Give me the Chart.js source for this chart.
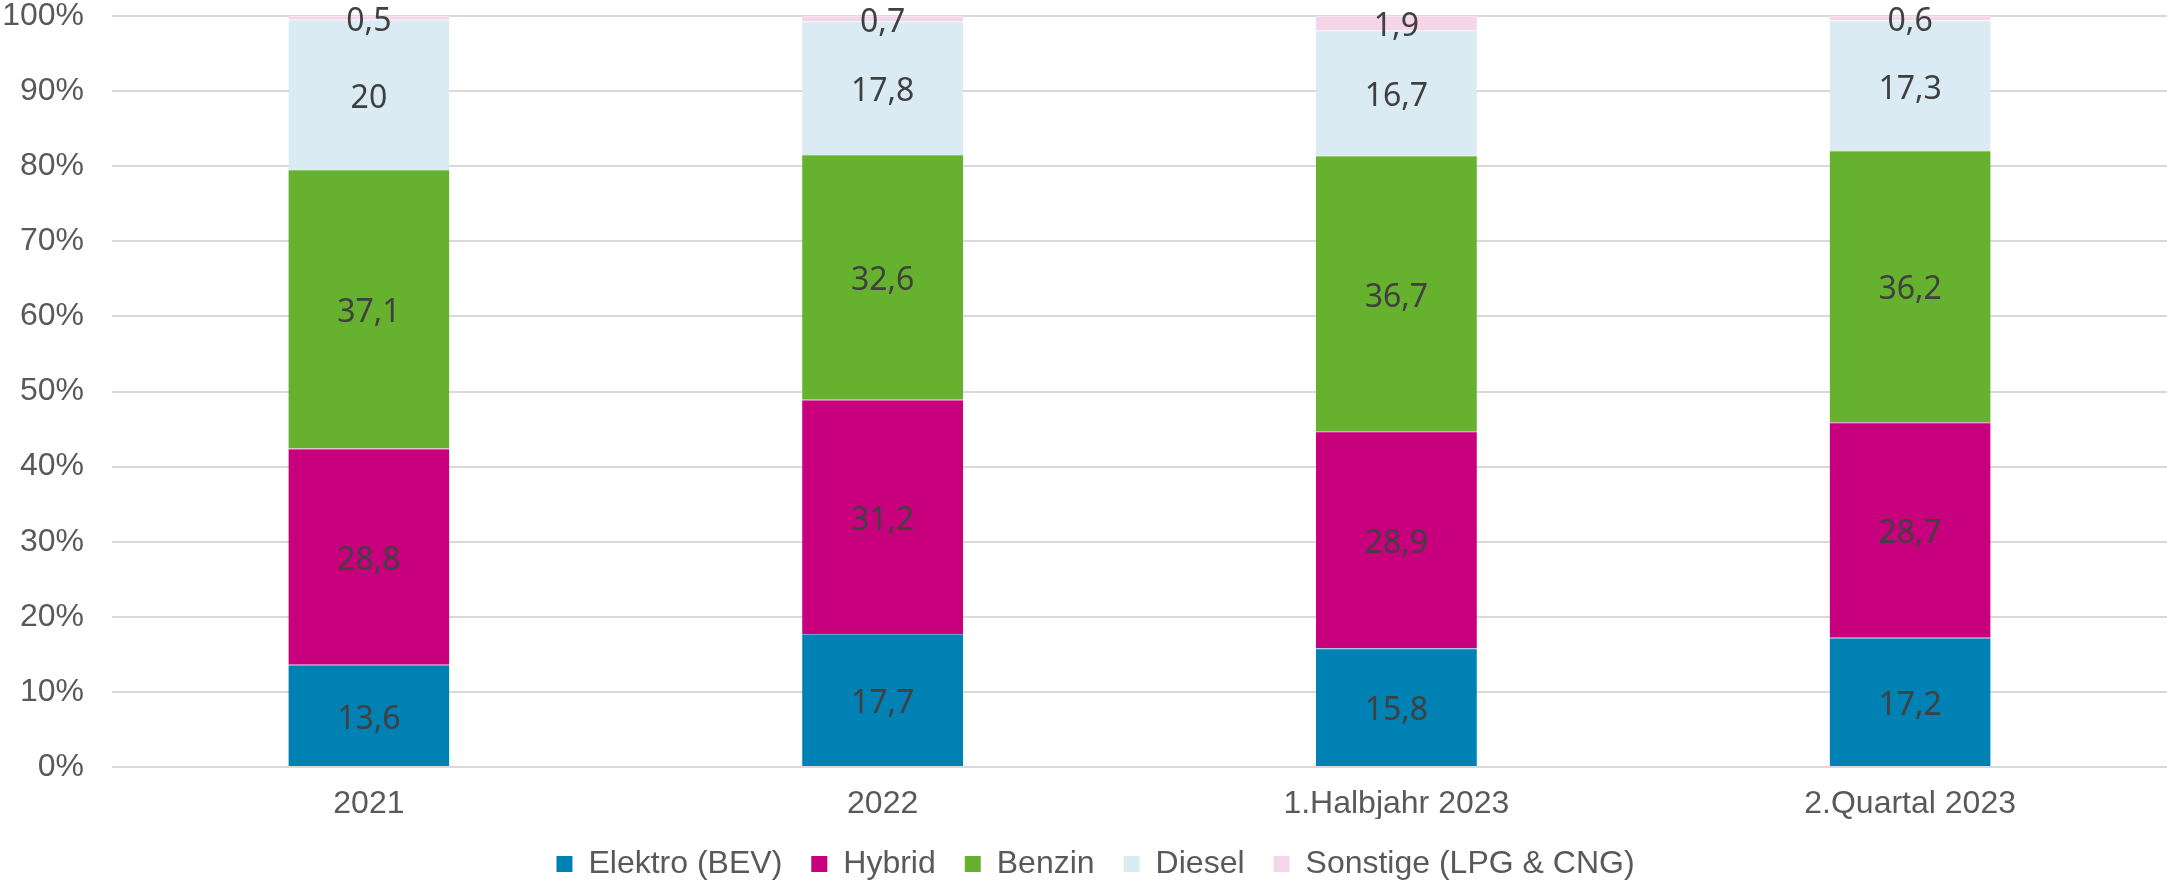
<!DOCTYPE html>
<html>
<head>
<meta charset="utf-8">
<script src="https://cdn.jsdelivr.net/npm/chart.js@4"></script>
<style>
html,body{margin:0;padding:0;background:#fff;}
canvas{display:block;}
</style>
</head>
<body>
<canvas id="c" width="2167" height="882"></canvas>
<script>
const categories = ['2021', '2022', '1.Halbjahr 2023', '2.Quartal 2023'];
const seriesNames = ['Elektro (BEV)', 'Hybrid', 'Benzin', 'Diesel', 'Sonstige (LPG & CNG)'];
const elektro = [13.6, 17.7, 15.8, 17.2];
const hybrid = [28.8, 31.2, 28.9, 28.7];
const benzin = [37.1, 32.6, 36.7, 36.2];
const diesel = [20, 17.8, 16.7, 17.3];
const sonstige = [0.5, 0.7, 1.9, 0.6];
const seriesColors = ['#0081B4', '#C8007E', '#66B22E', '#DAEBF3', '#F6D5E8'];
const seriesEdgeColors = ['#5FA9CC', '#D966A8', '#8FC76A', '#E6F1F7', '#F9E3F0'];
const yTickValues = [0, 10, 20, 30, 40, 50, 60, 70, 80, 90, 100];

const seriesData = [elektro, hybrid, benzin, diesel, sonstige];

const fmt = v => String(v).replace('.', ',');

const valueLabels = {
  id: 'valueLabels',
  afterDatasetsDraw(chart) {
    const ctx = chart.ctx;
    ctx.save();
    ctx.font = '32px "Noto Sans"';
    ctx.fillStyle = '#404040';
    ctx.textAlign = 'center';
    ctx.textBaseline = 'middle';
    chart.data.datasets.forEach((ds, i) => {
      const meta = chart.getDatasetMeta(i);
      meta.data.forEach((bar, j) => {
        const p = bar.getProps(['x', 'y', 'base'], true);
        ctx.fillText(fmt(ds.data[j]), p.x, (p.y + p.base) / 2 + 4);
      });
    });
    ctx.restore();
  }
};

const legendShift = {
  id: 'legendShift',
  afterLayout(chart) {
    if (chart.legend) { chart.legend.left += 12; chart.legend.right += 12; }
  }
};

new Chart(document.getElementById('c'), {
  type: 'bar',
  data: {
    labels: categories,
    datasets: seriesNames.map((name, i) => ({
      label: name,
      data: seriesData[i],
      backgroundColor: seriesColors[i],
      borderColor: seriesEdgeColors[i],
      borderWidth: { top: 1, bottom: 0, left: 0, right: 0 },
      borderSkipped: false,
      categoryPercentage: 1,
      barPercentage: 0.3134
    }))
  },
  options: {
    responsive: false,
    devicePixelRatio: 1,
    animation: false,
    layout: { padding: { top: 0, right: 0, bottom: -8, left: 0 } },
    plugins: {
      legend: {
        position: 'bottom',
        labels: {
          boxWidth: 16,
          boxHeight: 16,
          padding: 29,
          color: '#595959',
          font: { family: '"Liberation Sans", Arial, sans-serif', size: 32 },
          generateLabels(chart) {
            return chart.data.datasets.map((ds, i) => ({
              text: ds.label,
              fillStyle: ds.backgroundColor,
              strokeStyle: ds.backgroundColor,
              lineWidth: 0,
              fontColor: '#595959',
              hidden: false,
              datasetIndex: i
            }));
          }
        }
      },
      tooltip: { enabled: false },
      title: { display: false }
    },
    scales: {
      x: {
        stacked: true,
        afterFit(scale) { scale.height = 52; },
        grid: { display: false, drawTicks: false },
        border: { display: false },
        ticks: {
          padding: 18,
          color: '#595959',
          font: { family: '"Liberation Sans", Arial, sans-serif', size: 32 }
        }
      },
      y: {
        stacked: true,
        min: 0,
        max: 100,
        afterFit(scale) { scale.width = 112; scale.paddingTop = 16; scale.paddingBottom = 16; },
        afterBuildTicks(scale) { scale.ticks = yTickValues.map(v => ({ value: v })); },
        grid: { color: '#D9D9D9', lineWidth: 2, drawTicks: false },
        border: { display: false },
        ticks: {
          padding: 28,
          color: '#595959',
          font: { family: '"Liberation Sans", Arial, sans-serif', size: 32, lineHeight: 1.0 },
          callback: v => v + '%'
        }
      }
    }
  },
  plugins: [valueLabels, legendShift]
});
</script>
</body>
</html>
